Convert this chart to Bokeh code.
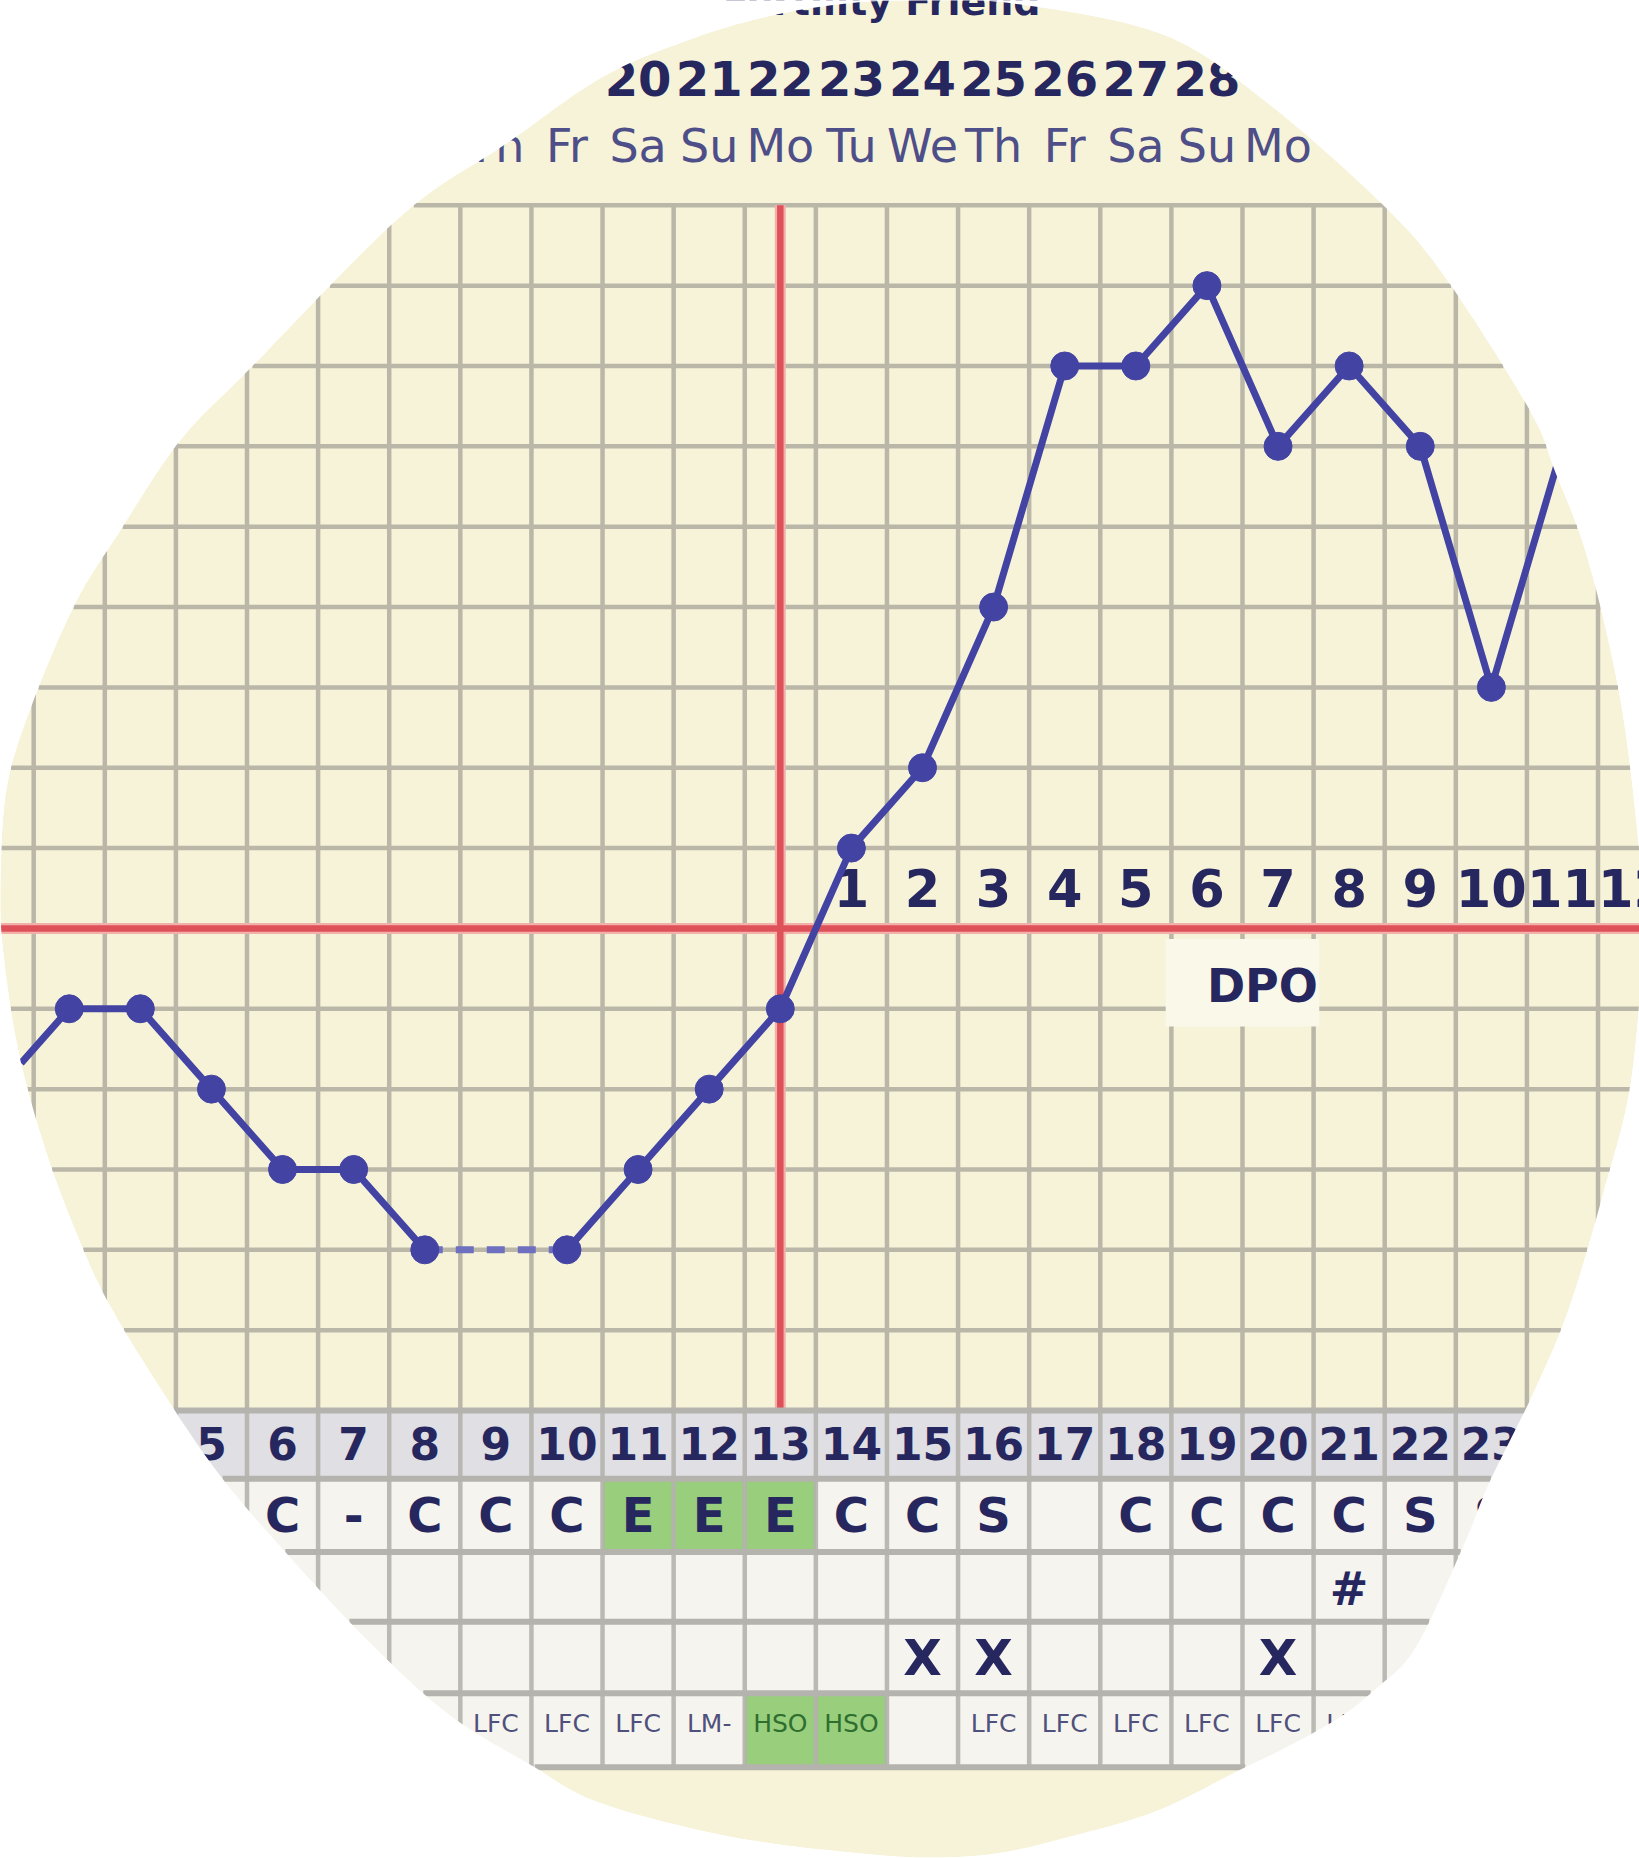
import numpy as np
from bokeh.plotting import figure
from bokeh.models import Range1d
from bokeh.embed import file_html
from bokeh.resources import INLINE
from bokeh.core.properties import value

# ---------------- data ----------------
cycle_days = list(range(2, 26))
temps = [97.5, 97.6, 97.6, 97.5, 97.4, 97.4, 97.3, None, 97.3, 97.4, 97.5, 97.6,
         97.8, 97.9, 98.1, 98.4, 98.4, 98.5, 98.3, 98.4, 98.3, 98.0, 98.3, 98.0]
dates = ["11", "12", "13", "14", "15", "16", "17", "18", "19", "20", "21", "22",
         "23", "24", "25", "26", "27", "28", "29", "30", "31", "1", "2", "3"]
weekdays = ["Th", "Fr", "Sa", "Su", "Mo", "Tu", "We", "Th", "Fr", "Sa", "Su", "Mo",
            "Tu", "We", "Th", "Fr", "Sa", "Su", "Mo", "Tu", "We", "Th", "Fr", "Sa"]
dpo = ["", "", "", "", "", "", "", "", "", "", "", "",
       "1", "2", "3", "4", "5", "6", "7", "8", "9", "10", "11", "12"]
fluid = ["", "", "", "", "C", "-", "C", "C", "C", "E", "E", "E",
         "C", "C", "S", "", "C", "C", "C", "C", "S", "S", "", ""]
marks = ["", "", "", "", "", "", "", "", "", "", "", "",
         "", "", "", "", "", "", "", "#", "", "", "", ""]
intercourse = ["", "", "", "", "", "", "", "", "", "", "", "",
               "", "X", "X", "", "", "", "X", "", "", "", "", ""]
cervix = ["", "", "", "", "", "", "LFC", "LFC", "LFC", "LFC", "LM-", "HSO",
          "HSO", "", "LFC", "LFC", "LFC", "LFC", "LFC", "LFC", "", "", "", ""]
title = "Fertility Friend"
coverline = 97.7
ovulation_day = 13
step = 0.1

# ---------------- geometry helpers ----------------
W, H = 1639, 1858
AX, BX = 71.106, -144.58      # page x = AX * day + BX
CY, DY = 927.93, 80.35        # page y = CY - DY * level


def ty(k):
    return coverline + step * k


def px_to_data(X, Y):
    return (np.asarray(X) - BX) / AX, ty((CY - np.asarray(Y)) / DY)


def data_to_px(x, t):
    return AX * np.asarray(x) + BX, CY - DY * (np.asarray(t) - coverline) / step


N0, N1 = (0 - BX) / AX, (W - BX) / AX

CREAM = "#f7f3d9"
GRID = "#bab7a9"
NAVY = "#27275f"
WEEK = "#4e4e88"
LINE = "#4343a3"
RED = "#df5159"
HALO = "#f2b0aa"
HEAD = "#e0dfe4"
TBG = "#f5f4ee"
GREEN = "#98ce7c"
TLINE = "#b4b3ad"

p = figure(width=W, height=H, output_backend="svg", toolbar_location=None,
           x_range=Range1d(N0, N1), y_range=Range1d(ty((CY - H) / DY), ty(CY / DY)),
           x_axis_location=None, y_axis_location=None, min_border=0,
           background_fill_color="white", border_fill_color="white")
p.outline_line_color = None
p.grid.visible = False

# blob outline (shrunk-reference pixels, scaled to full size below)
blob_disp = [(761, 0), (850, 2), (979, 28), (1066, 84), (1163, 169), (1218, 232), (1290, 345),
             (1312, 398), (1339, 470), (1366, 585), (1381, 700), (1386, 782), (1376, 911),
             (1352, 1008), (1323, 1105), (1293, 1176), (1257, 1249), (1234, 1305), (1194, 1390),
             (1160, 1425), (1128, 1450), (1081, 1476), (1050, 1491), (975, 1528), (900, 1550),
             (844, 1563), (790, 1567), (731, 1564), (619, 1550), (506, 1521), (446, 1488),
             (378, 1446), (310, 1384), (242, 1311), (184, 1243), (131, 1165), (90, 1097),
             (64, 1040), (38, 970), (15, 886), (2, 800), (0, 740), (6, 660), (30, 585),
             (64, 507), (98, 452), (151, 372), (211, 310), (339, 181), (425, 122), (509, 64),
             (590, 30), (654, 12), (710, 3)]


def catmull(P, sub=12):
    P = np.array(P, float)
    N = len(P)
    out = []
    for i in range(N):
        p0, p1, p2, p3 = P[(i - 1) % N], P[i], P[(i + 1) % N], P[(i + 2) % N]
        for t in np.linspace(0, 1, sub, endpoint=False):
            t2, t3 = t * t, t * t * t
            out.append(0.5 * ((2 * p1) + (-p0 + p2) * t + (2 * p0 - 5 * p1 + 4 * p2 - p3) * t2
                              + (-p0 + 3 * p1 - 3 * p2 + p3) * t3))
    return np.array(out)


SUB = 12
S = catmull(blob_disp, SUB) * 1.1851
BOT = int(np.argmax([q[1] for q in blob_disp])) * SUB
SX, SY = S[:, 0], S[:, 1]
SX2, SY2 = np.roll(SX, -1), np.roll(SY, -1)


def crossings(Y):
    cond = (SY > Y) != (SY2 > Y)
    den = np.where(SY2 - SY == 0, 1e-9, SY2 - SY)
    return (SX + (Y - SY) * (SX2 - SX) / den)[cond]


def inside(X, Y):
    return int(np.sum(X < crossings(Y))) % 2 == 1


def span(Y):
    xs = crossings(Y)
    if len(xs) == 0:
        return None
    return (max(0.0, xs.min()) - BX) / AX, (min(float(W), xs.max()) - BX) / AX


def hsegments(levels):
    x0, x1, yy = [], [], []
    for k in levels:
        sp = span(CY - DY * k)
        if sp:
            x0.append(sp[0]); x1.append(sp[1]); yy.append(ty(k))
    return x0, x1, yy


bx, by = px_to_data(SX, SY)
p.patch(bx, by, fill_color=CREAM, line_color=None)

# ---------------- chart grid ----------------
vx = [d + 0.5 for d in range(2, 25)]
p.segment(x0=vx, y0=[ty(-6)] * len(vx), x1=vx, y1=[ty(9)] * len(vx), line_color=GRID, line_width=4.5)
h0, h1, hy = hsegments(range(-6, 10))
p.segment(x0=h0, y0=hy, x1=h1, y1=hy, line_color=GRID, line_width=4.5)

# DPO label box
p.quad(left=18.42, right=20.58, top=ty(-0.13), bottom=ty(-1.22), fill_color="#f9f8e9", line_color=None)

# red lines
r0, r1, ry = hsegments([0])
for col, lw in ((HALO, 11), (RED, 6.5)):
    p.segment(x0=r0, y0=ry, x1=r1, y1=ry, line_color=col, line_width=lw)
    p.segment(x0=[ovulation_day], y0=[ty(9)], x1=[ovulation_day], y1=[ty(-6)], line_color=col, line_width=lw)

# ---------------- table ----------------
rows = [-6.0, -6.85, -7.76, -8.63, -9.52, -10.44]


def band(k_top, k_bot):
    a, b = span(CY - DY * k_top), span(CY - DY * k_bot)
    return min(a[0], b[0]), max(a[1], b[1])


L, R = band(rows[0], rows[1])
p.quad(left=L, right=R, top=ty(rows[0]), bottom=ty(rows[1]), fill_color=HEAD, line_color=None)
L, R = band(rows[1], rows[5])
p.quad(left=L, right=R, top=ty(rows[1]), bottom=ty(rows[5]), fill_color=TBG, line_color=None)
gx = [d for d, f in zip(cycle_days, fluid) if f == "E"]
p.quad(left=[d - 0.5 for d in gx], right=[d + 0.5 for d in gx], top=ty(rows[1]), bottom=ty(rows[2]),
       fill_color=GREEN, line_color=None)
hx = [d for d, c in zip(cycle_days, cervix) if c == "HSO"]
p.quad(left=[d - 0.5 for d in hx], right=[d + 0.5 for d in hx], top=ty(rows[4]), bottom=ty(rows[5]),
       fill_color=GREEN, line_color=None)
p.segment(x0=vx, y0=[ty(rows[0])] * len(vx), x1=vx, y1=[ty(rows[5])] * len(vx),
          line_color=TLINE, line_width=4.5, line_alpha=0.9)
t0, t1, tyy = hsegments(rows)
p.segment(x0=t0, y0=tyy, x1=t1, y1=tyy, line_color=TLINE, line_width=6)

FONT = value("DejaVu Sans")
SHIFT = 0.39   # baseline correction, in em


def row_text(texts, k_base, size, color, style="bold"):
    keep_x, keep_t, keep_c = [], [], []
    for i, (d, t) in enumerate(zip(cycle_days, texts)):
        if not t:
            continue
        X = AX * d + BX
        Yc = CY - DY * k_base - 0.36 * size
        if not any(inside(X + o, Yc) for o in (-0.3 * AX, 0, 0.3 * AX)):
            continue
        keep_x.append(d)
        keep_t.append(t)
        keep_c.append(color if isinstance(color, str) else color[i])
    k_req = k_base + SHIFT * size / DY
    p.text(x=keep_x, y=[ty(k_req)] * len(keep_x), text=keep_t, text_font=FONT,
           text_font_size=f"{size}px", text_font_style=style, text_color=keep_c,
           text_align="center", text_baseline="alphabetic")


row_text([str(d) for d in cycle_days], -6.62, 44, NAVY)
row_text(fluid, -7.53, 48, NAVY)
row_text(marks, -8.44, 46, NAVY)
row_text(intercourse, -9.32, 50, NAVY)
row_text(cervix, -10.02, 25, ["#2f6e2f" if c == "HSO" else "#50507c" for c in cervix], style="normal")

# ---------------- header texts ----------------
p.text(x=[(1040 - BX) / AX], y=[ty((CY - 1) / DY)], text=[title], text_font=FONT,
       text_font_size="38px", text_font_style="bold", text_color=NAVY, text_align="right",
       text_baseline="alphabetic")
row_text(dates, 10.34, 48, NAVY)
row_text(weekdays, 9.52, 46, WEEK, style="normal")
row_text(dpo, 0.25, 51, NAVY)
p.text(x=[19.78], y=[ty(-0.94 + SHIFT * 46 / DY)], text=["DPO"], text_font=FONT, text_font_size="46px",
       text_font_style="bold", text_color=NAVY, text_align="center", text_baseline="alphabetic")

# ---------------- temperature line ----------------
tv = np.array([np.nan if t is None else t for t in temps], float)
cd = np.array(cycle_days, float)
for i in range(len(tv)):
    if np.isnan(tv[i]) and 0 < i < len(tv) - 1:
        p.line([cd[i - 1], cd[i + 1]], [tv[i - 1], tv[i + 1]], line_color="#6f6fc0",
               line_width=7, line_dash="18 13")

# start the line where it enters the blob (the part before is hidden anyway)
lx, lt = list(cd), list(tv)
X0, Y0 = data_to_px(cd[0], tv[0])
if not inside(X0, Y0):
    X1, Y1 = data_to_px(cd[1], tv[1])
    for f in np.linspace(0, 1, 400):
        Xf, Yf = X0 + f * (X1 - X0), Y0 + f * (Y1 - Y0)
        if inside(Xf, Yf):
            lx[0] = cd[0] + f * (cd[1] - cd[0])
            lt[0] = tv[0] + f * (tv[1] - tv[0])
            break
p.line(lx, lt, line_color=LINE, line_width=7, line_join="round")
vis = [i for i in range(len(tv)) if not np.isnan(tv[i]) and inside(*data_to_px(cd[i], tv[i]))]
p.scatter(cd[vis], tv[vis], size=28, fill_color=LINE, line_color=LINE)

# ---------------- white mask outside blob ----------------
top = S[0]
bot = S[BOT]
right_side = S[:BOT + 1]
left_side = np.vstack([S[BOT:], S[:1]])
E = 3
rpoly = np.vstack([[[top[0], -E], [W + E, -E], [W + E, H + E], [bot[0], H + E]], right_side[::-1]])
lpoly = np.vstack([[[bot[0], H + E], [-E, H + E], [-E, -E], [top[0], -E]], left_side[::-1]])
for poly in (rpoly, lpoly):
    mx, my = px_to_data(poly[:, 0], poly[:, 1])
    p.patch(mx, my, fill_color="white", line_color=None)

open("out.html", "w").write(file_html(p, INLINE))
